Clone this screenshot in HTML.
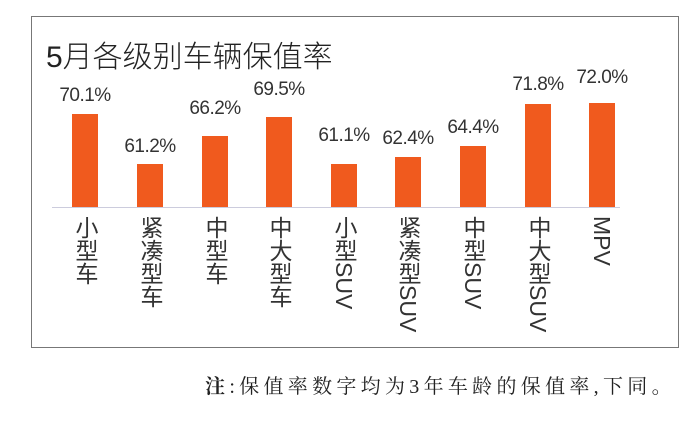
<!DOCTYPE html>
<html><head><meta charset="utf-8"><style>
body{margin:0;width:700px;height:423px;background:#fff;position:relative;overflow:hidden;font-family:"Liberation Sans","Noto Sans CJK SC",sans-serif;}
.box{position:absolute;left:31px;top:16px;width:648px;height:332px;border:1px solid #777;box-sizing:border-box;}
.t{position:absolute;left:46px;top:32px;font-size:30px;color:#222;white-space:nowrap;font-weight:300;}
.bar{position:absolute;width:26px;background:#f05a1e;}
.v{position:absolute;width:80px;text-align:center;font-size:19px;color:#333;letter-spacing:-0.5px;}
.c{position:absolute;writing-mode:vertical-rl;font-size:23px;color:#333;top:216px;line-height:24px;width:24px;}
.base{position:absolute;left:52px;top:207px;width:568px;height:1px;background:#ccd;}
.n{position:absolute;left:205px;top:370px;font-family:"Liberation Serif","Noto Serif CJK SC",serif;font-size:20px;letter-spacing:4.3px;color:#222;white-space:nowrap;}
</style></head><body>
<div class="box"></div>
<div class="t">5月各级别车辆保值率</div>
<div class="base"></div>
<div class="bar" style="left:72px;top:114px;height:93px"></div><div class="v" style="left:45px;top:85px">70.1%</div><div class="c" style="left:73px">小型车</div>
<div class="bar" style="left:137px;top:164px;height:43px"></div><div class="v" style="left:110px;top:136px">61.2%</div><div class="c" style="left:138px">紧凑型车</div>
<div class="bar" style="left:202px;top:136px;height:71px"></div><div class="v" style="left:175px;top:98px">66.2%</div><div class="c" style="left:203px">中型车</div>
<div class="bar" style="left:266px;top:117px;height:90px"></div><div class="v" style="left:239px;top:79px">69.5%</div><div class="c" style="left:267px">中大型车</div>
<div class="bar" style="left:331px;top:164px;height:43px"></div><div class="v" style="left:304px;top:125px">61.1%</div><div class="c" style="left:332px">小型SUV</div>
<div class="bar" style="left:395px;top:157px;height:50px"></div><div class="v" style="left:368px;top:128px">62.4%</div><div class="c" style="left:396px">紧凑型SUV</div>
<div class="bar" style="left:460px;top:146px;height:61px"></div><div class="v" style="left:433px;top:117px">64.4%</div><div class="c" style="left:461px">中型SUV</div>
<div class="bar" style="left:525px;top:104px;height:103px"></div><div class="v" style="left:498px;top:74px">71.8%</div><div class="c" style="left:526px">中大型SUV</div>
<div class="bar" style="left:589px;top:103px;height:104px"></div><div class="v" style="left:562px;top:67px">72.0%</div><div class="c" style="left:590px">MPV</div>
<div class="n"><b>注</b>:保值率数字均为3年车龄的保值率,下同。</div>
</body></html>
